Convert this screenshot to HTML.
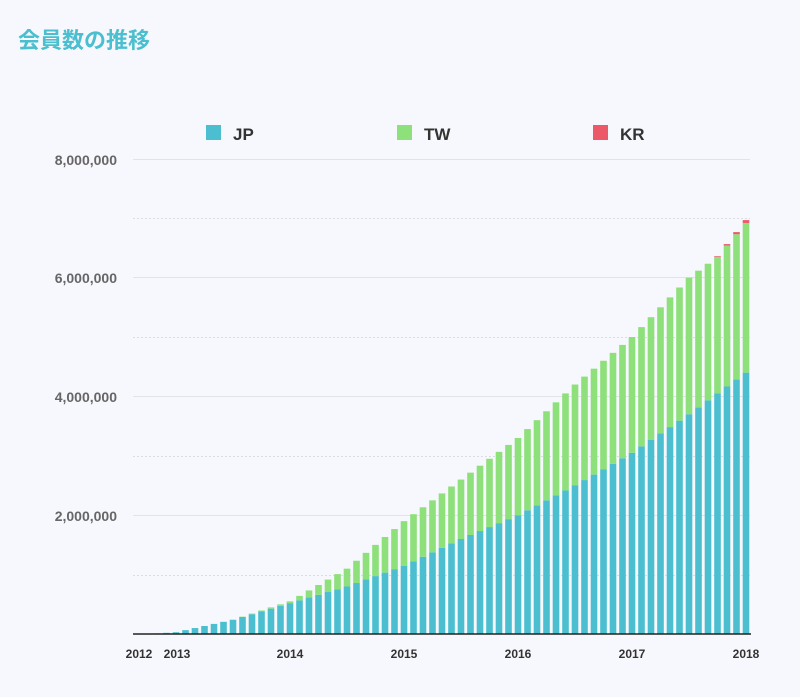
<!DOCTYPE html>
<html><head><meta charset="utf-8"><style>
html,body{margin:0;padding:0;background:#f7f8fd;}
svg{display:block}
</style></head><body>
<svg id="s" width="800" height="697" xmlns="http://www.w3.org/2000/svg" font-family="'Liberation Sans','Noto Sans CJK JP',sans-serif">
<rect width="800" height="697" fill="#f7f8fd"/>
<text x="18" y="48" font-size="22" font-weight="bold" fill="#4bbfcf" font-family="'Liberation Sans','Noto Sans CJK JP',sans-serif">会員数の推移</text>
<rect x="206" y="125" width="15" height="15" fill="#4bbfcf"/><text x="233" y="140" font-size="17" font-weight="bold" fill="#333">JP</text>
<rect x="397" y="125" width="15" height="15" fill="#8de07a"/><text x="424" y="140" font-size="17" font-weight="bold" fill="#333">TW</text>
<rect x="593" y="125" width="15" height="15" fill="#ec5a6a"/><text x="620" y="140" font-size="17" font-weight="bold" fill="#333">KR</text>
<g stroke="#e2e3ea" stroke-width="1">
<line x1="133" x2="750" y1="159.5" y2="159.5"/><line x1="133" x2="750" y1="277.5" y2="277.5"/>
<line x1="133" x2="750" y1="396.5" y2="396.5"/><line x1="133" x2="750" y1="515.5" y2="515.5"/>
</g>
<g stroke="#dcdde4" stroke-width="1" stroke-dasharray="2,2">
<line x1="133" x2="750" y1="218.5" y2="218.5"/><line x1="133" x2="750" y1="337.5" y2="337.5"/>
<line x1="133" x2="750" y1="456.5" y2="456.5"/><line x1="133" x2="750" y1="575.5" y2="575.5"/>
</g>
<g font-size="14" font-weight="bold" fill="#666" text-anchor="end">
<text x="117" y="165">8,000,000</text><text x="117" y="283">6,000,000</text>
<text x="117" y="402">4,000,000</text><text x="117" y="521">2,000,000</text>
</g>
<g id="bars"></g>
<line x1="133" x2="751" y1="634" y2="634" stroke="#222" stroke-width="1.5"/>
<g font-size="12" font-weight="bold" fill="#333" text-anchor="middle">
<text x="139" y="658">2012</text><text x="177" y="658">2013</text><text x="290" y="658">2014</text>
<text x="404" y="658">2015</text><text x="518" y="658">2016</text><text x="632" y="658">2017</text><text x="746" y="658">2018</text>
</g>
</svg>
<script>
function interp(pts,m){for(var i=0;i<pts.length-1;i++){if(m>=pts[i][0]&&m<=pts[i+1][0]){var t=(m-pts[i][0])/(pts[i+1][0]-pts[i][0]);return pts[i][1]+t*(pts[i+1][1]-pts[i][1]);}}return pts[pts.length-1][1];}
var jp=[[-2,0.01],[0,0.03],[6,0.24],[12,0.52],[18,0.8],[24,1.15],[30,1.6],[36,2.0],[42,2.5],[48,3.05],[54,3.7],[60,4.4]];
var tot=[[-2,0.01],[0,0.03],[6,0.24],[11,0.5],[12,0.55],[18,1.1],[24,1.9],[30,2.6],[36,3.3],[42,4.2],[48,5.0],[54,6.0],[57,6.35],[60,6.92]];
var g=document.getElementById('bars'),h='',k=59.4,base=634;
for(var m=-2;m<=60;m++){var x=176+m*9.5-3.3,j=interp(jp,m),t=interp(tot,m);
h+='<rect x="'+x+'" y="'+(base-j*k)+'" width="6.6" height="'+(j*k)+'" fill="#4bbfcf"/>';
if(t>j)h+='<rect x="'+x+'" y="'+(base-t*k)+'" width="6.6" height="'+((t-j)*k)+'" fill="#8de07a"/>';
if(m>=57){var kr=(m-56)*0.012;h+='<rect x="'+x+'" y="'+(base-(t+kr)*k)+'" width="6.6" height="'+(kr*k)+'" fill="#ec5a6a"/>';}}
g.innerHTML=h;
</script>
</body></html>
